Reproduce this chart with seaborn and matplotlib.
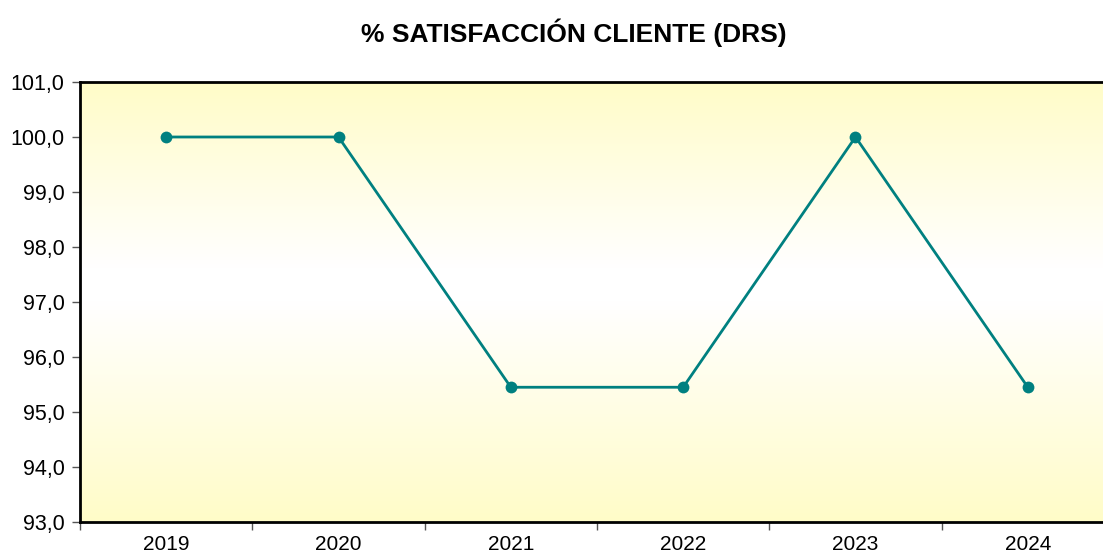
import matplotlib
matplotlib.use("Agg")
import matplotlib.pyplot as plt
import matplotlib.ticker as mticker
from matplotlib.colors import LinearSegmentedColormap
import numpy as np
import pandas as pd
import seaborn as sns

years = ["2019", "2020", "2021", "2022", "2023", "2024"]
satisfaction = [100.0, 100.0, 95.45, 95.45, 100.0, 95.45]
title = "% SATISFACCIÓN CLIENTE (DRS)"

sns.set_style("white", {"xtick.bottom": True, "ytick.left": True,
                        "text.color": "black", "xtick.color": "black",
                        "ytick.color": "black"})
plt.rcParams['font.family'] = ['Liberation Sans', 'DejaVu Sans']

df = pd.DataFrame({"pos": np.arange(len(years)), "year": years, "value": satisfaction})

W, H = 1103, 558
fig = plt.figure(figsize=(W / 100, H / 100), dpi=100)
left, right, top, bottom = 80, 1114, 82, 522
ax = fig.add_axes([left / W, 1 - bottom / H, (right - left) / W, (bottom - top) / H])

# background gradient: yellow top and bottom, white in the middle
cmap = LinearSegmentedColormap.from_list(
    "bg", [(0.0, "#fffcc8"), (0.42, "#ffffff"), (0.5, "#ffffff"), (1.0, "#fffcc8")])
grad = np.linspace(0, 1, 256).reshape(-1, 1)
ax.imshow(grad, aspect="auto", cmap=cmap, extent=[-0.5, len(years) - 0.5, 93, 101],
          origin="upper", zorder=0)

sns.lineplot(data=df, x="pos", y="value", ax=ax, color="#008080", linewidth=2,
             marker="o", markersize=8.5, markeredgewidth=0, zorder=3)

ax.set_xlim(-0.5, len(years) - 0.5)
ax.set_ylim(93, 101)
ax.set_yticks(np.arange(93, 101.5, 1))
ax.yaxis.set_major_formatter(mticker.FuncFormatter(lambda v, p: f"{v:.1f}".replace(".", ",")))

ax.set_xticks(np.arange(-0.5, len(years), 1))
ax.set_xticklabels([])
ax.set_xticks(np.arange(len(years)), minor=True)
ax.set_xticklabels(years, minor=True)
ax.tick_params(axis="x", which="major", bottom=True, direction="out", length=6, width=1,
               color="#555555")
ax.tick_params(axis="x", which="minor", bottom=True, length=0, pad=9, labelsize=15,
               labelcolor="black")
ax.tick_params(axis="y", left=True, direction="out", length=6, width=1, color="#555555",
               labelsize=15.5, pad=5, labelcolor="black")

ax.set_xlabel("")
ax.set_ylabel("")
for s in ["left", "bottom", "top", "right"]:
    ax.spines[s].set_color("black")
    ax.spines[s].set_linewidth(2)
    ax.spines[s].set_visible(True)

fig.text(0.52, 1 - 33 / H, title, ha="center", va="center", fontsize=19,
         fontweight="bold", color="black")

fig.savefig("out.png", dpi=100)
